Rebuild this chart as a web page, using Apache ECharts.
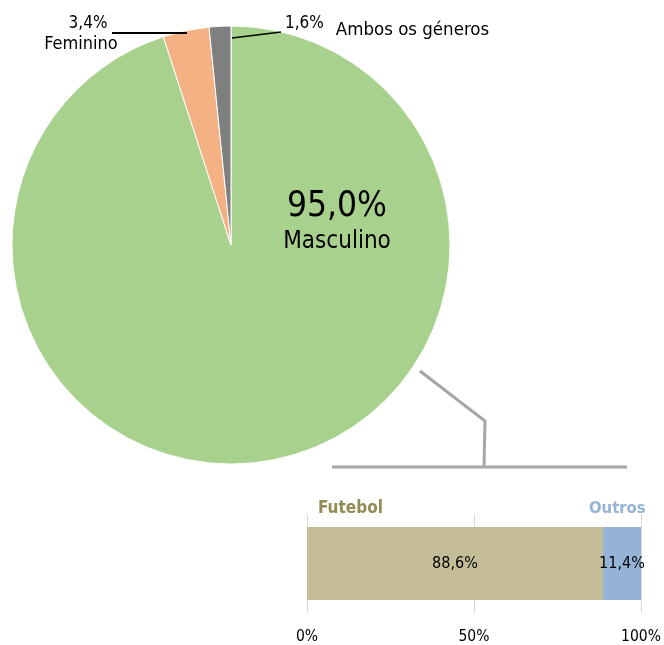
<!DOCTYPE html>
<html><head><meta charset="utf-8">
<script src="https://cdn.jsdelivr.net/npm/echarts@6/dist/echarts.min.js"></script>
<style>html,body{margin:0;padding:0;background:#fff}#c{width:664px;height:645px}</style>
</head><body><div id="c"></div>
<script>
const genderNames = ['Masculino', 'Feminino', 'Ambos os géneros'];
const genderValues = [95.0, 3.4, 1.6];
const genderColors = ['#a9d18e', '#f4b183', '#7f7f7f'];
const sportNames = ['Futebol', 'Outros'];
const sportValues = [88.6, 11.4];
const sportColors = ['#c4bd97', '#95b3d7'];
const axisTicks = [0, 50, 100];

const FONT = '"DejaVu Sans Condensed", "Liberation Sans Narrow", sans-serif';
const fmt = v => v.toFixed(1).replace('.', ',') + '%';

const chart = echarts.init(document.getElementById('c'), null, {renderer: 'canvas'});

const labelSpots = [
  {x: 337, y: 222, align: 'center'},
  {x: 81, y: 34, align: 'center'},
  {x: 285, y: 30, align: 'left'}
];

const pieData = genderNames.map((n, i) => {
  const d = {name: n, value: genderValues[i], itemStyle: {color: genderColors[i]}};
  if (i === 0) {
    d.label = {formatter: p => '{big|' + fmt(p.value) + '}\n{nm|' + p.name + '}', rich: {
      big: {fontSize: 35, fontFamily: FONT, color: '#000', lineHeight: 40, align: 'center'},
      nm: {fontSize: 24, fontFamily: FONT, color: '#000', lineHeight: 30, align: 'center'}
    }};
  } else if (i === 1) {
    d.label = {formatter: p => '{v|' + fmt(p.value) + '}\n{nm|' + p.name + '}', rich: {
      v: {fontSize: 17, fontFamily: FONT, color: '#000', lineHeight: 21, padding: [0, 0, 0, 14]},
      nm: {fontSize: 18, fontFamily: FONT, color: '#000', lineHeight: 21}
    }};
  } else {
    d.label = {formatter: p => '{v|' + fmt(p.value) + '}{nm|' + p.name + '}', rich: {
      v: {fontSize: 17, fontFamily: FONT, color: '#000', padding: [0, 0, 12, 0]},
      nm: {fontSize: 18.5, fontFamily: FONT, color: '#000', padding: [0, 0, 0, 12]}
    }};
  }
  return d;
});

chart.setOption({
  animation: false,
  backgroundColor: '#fff',
  grid: {left: 307, right: 23, top: 514, height: 100},
  legend: [
    {data: [{name: sportNames[0], textStyle: {color: '#948a54'}}], left: 308, top: 495, icon: 'none', itemWidth: 0, itemGap: 0,
      textStyle: {fontFamily: FONT, fontSize: 17, fontWeight: 'bold'}, selectedMode: false},
    {data: [{name: sportNames[1], textStyle: {color: '#95b3d7'}}], left: 579, top: 495, icon: 'none', itemWidth: 0, itemGap: 0,
      textStyle: {fontFamily: FONT, fontSize: 16.5, fontWeight: 'bold'}, selectedMode: false}
  ],
  xAxis: {type: 'value', min: axisTicks[0], max: axisTicks[axisTicks.length - 1], interval: axisTicks[1] - axisTicks[0],
    axisLine: {show: false}, axisTick: {show: false},
    splitLine: {show: true, lineStyle: {color: '#d9d9d9', width: 1}},
    axisLabel: {formatter: '{value}%', color: '#000', fontFamily: FONT, fontSize: 15.5, margin: 16}},
  yAxis: {type: 'category', data: [''], axisLine: {show: false}, axisTick: {show: false}, axisLabel: {show: false}},
  series: [
    {type: 'pie', center: [231, 245], radius: 219, startAngle: 90, clockwise: true,
      itemStyle: {borderColor: '#fff', borderWidth: 1},
      label: {show: true, position: 'outside', overflow: 'none', edgeDistance: 0, alignTo: 'none'},
      labelLine: {show: false},
      labelLayout: p => {
        const s = labelSpots[p.dataIndex];
        return {x: s.x, y: s.y, align: s.align, verticalAlign: 'middle', hideOverlap: false};
      },
      data: pieData},
    ...sportNames.map((n, i) => ({
      type: 'bar', name: n, stack: 'total', barWidth: 73,
      itemStyle: {color: sportColors[i]},
      label: {show: true, position: 'inside', color: '#000', fontFamily: FONT, fontSize: 16, formatter: p => fmt(p.value)},
      data: [sportValues[i]]
    }))
  ],
  graphic: [
    {type: 'line', z: 100, shape: {x1: 112, y1: 33, x2: 187, y2: 33}, style: {stroke: '#000', lineWidth: 2}},
    {type: 'line', z: 100, shape: {x1: 232, y1: 38, x2: 281, y2: 32}, style: {stroke: '#000', lineWidth: 1.5}},
    {type: 'polyline', shape: {points: [[420, 371], [485, 421], [484, 468]]}, style: {stroke: '#a6a6a6', lineWidth: 3, fill: null}},
    {type: 'line', shape: {x1: 332, y1: 467, x2: 627, y2: 467}, style: {stroke: '#a6a6a6', lineWidth: 3}}
  ]
});
</script></body></html>
